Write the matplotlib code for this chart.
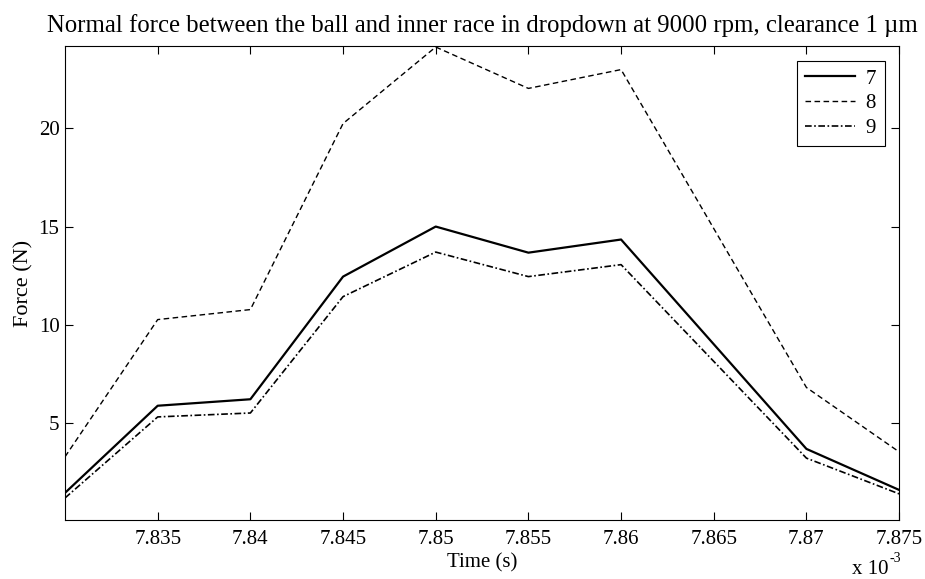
import matplotlib.pyplot as plt
from matplotlib.ticker import FuncFormatter

# time in units of 1e-3 s
time = [7.83, 7.835, 7.84, 7.845, 7.85, 7.855, 7.86, 7.87, 7.875]
force_7 = [1.43, 5.87, 6.2, 12.45, 15.0, 13.67, 14.34, 3.67, 1.58]
force_8 = [3.27, 10.26, 10.77, 20.25, 24.15, 22.04, 23.0, 6.8, 3.52]
force_9 = [1.17, 5.3, 5.5, 11.43, 13.7, 12.45, 13.06, 3.2, 1.38]
x_ticks = [7.835, 7.84, 7.845, 7.85, 7.855, 7.86, 7.865, 7.87, 7.875]
y_ticks = [5, 10, 15, 20]

plt.rcParams['font.family'] = ['Liberation Serif', 'DejaVu Serif']

fig = plt.figure(figsize=(9.25, 5.79), dpi=100)
ax = fig.add_axes([0.0703, 0.102, 0.9017, 0.8185])

ax.plot(time, force_7, color='black', linestyle='-', linewidth=1.6, label='7')
ax.plot(time, force_8, color='black', linestyle=(0, (4, 2.5)), linewidth=1.0, label='8')
ax.plot(time, force_9, color='black', linestyle=(0, (4, 1.5, 1, 1.5)), linewidth=1.2, label='9')

ax.set_xlim(7.83, 7.875)
ax.set_ylim(0.05, 24.2)
ax.set_xticks(x_ticks)
ax.set_yticks(y_ticks)
ax.xaxis.set_major_formatter(FuncFormatter(lambda v, p: '%g' % round(v, 3)))
ax.tick_params(direction='in', top=True, right=True, length=6, labelsize=15)
ax.tick_params(axis='x', pad=7)
ax.tick_params(axis='y', pad=4)

ax.set_title('Normal force between the ball and inner race in dropdown at 9000 rpm, clearance 1 \u00b5m',
             fontsize=17.8, pad=10)
ax.set_xlabel('Time (s)', fontsize=15, labelpad=3)
ax.set_ylabel('Force (N)', fontsize=16)
ax.yaxis.set_label_coords(-0.038, 0.5)

# MATLAB-style exponent label below the x axis
fig.text(852 / 925, 1 - 570 / 579, 'x 10', fontsize=15, ha='left', va='center')
fig.text(889 / 925, 1 - 559 / 579, '-3', fontsize=10, ha='left', va='center')

leg = ax.legend(loc='upper right', fontsize=15, fancybox=False, framealpha=1,
                edgecolor='black', handlelength=2.4, borderaxespad=0.7,
                labelspacing=0.25, handletextpad=0.5, borderpad=0.4)
leg.get_frame().set_linewidth(0.8)

plt.savefig('out.png', dpi=100)
plt.close()
